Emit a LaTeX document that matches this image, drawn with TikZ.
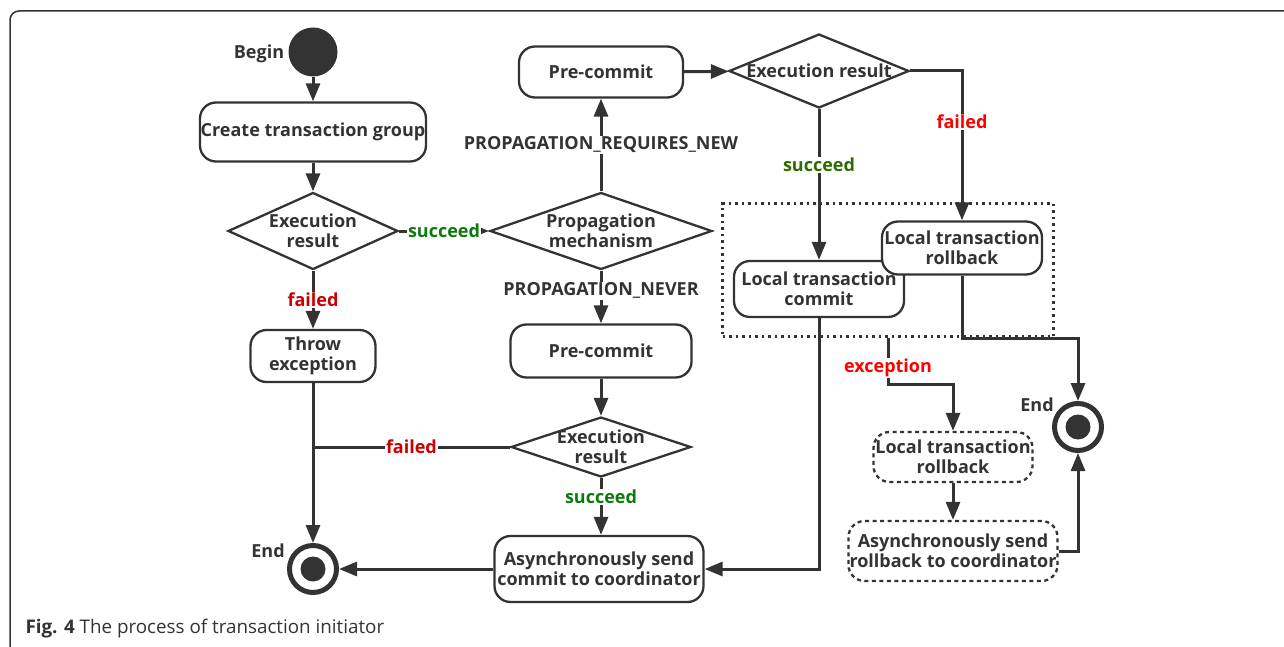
\documentclass[tikz,border=0pt]{standalone}
\usepackage{fontspec}
\setmainfont{Open Sans}
\usetikzlibrary{shapes.geometric,arrows.meta}
\definecolor{ink}{HTML}{333333}
\definecolor{faildark}{HTML}{CC0000}
\definecolor{failbright}{HTML}{FF0000}
\definecolor{okgreen}{HTML}{0A7A0A}
\definecolor{okolive}{HTML}{2E6B00}
\tikzset{
	txt/.style={font=\fontsize{18}{20}\selectfont\bfseries, text=ink, align=center},
	actbox/.style={txt, draw=ink, line width=2.3pt, rounded corners=16pt, fill=white, inner sep=0pt},
	dashbox/.style={actbox, dash pattern=on 4pt off 3.5pt},
	dotbox/.style={draw=ink, line width=2.4pt, dash pattern=on 2.5pt off 4pt, inner sep=0pt},
	decision/.style={diamond, draw=ink, line width=2.3pt, fill=white, inner sep=0pt},
	inside/.style={label={[txt]center:{#1}}},
	startdot/.style={circle, fill=ink, minimum size=49pt, inner sep=0pt},
	enddot/.style={circle, draw=ink, line width=5pt, fill=white, minimum size=47pt, inner sep=0pt,
		path picture={\fill[ink] (path picture bounding box.center) circle (12.5pt);}},
	conn/.style={draw=ink, line width=3pt, -{Triangle[length=18pt, width=14pt]}},
	wire/.style={draw=ink, line width=3pt},
	lbl/.style={txt, fill=white, inner sep=1pt},
}
\begin{document}
\begin{tikzpicture}[x=1pt, y=-1pt]
	\useasboundingbox (0,0) rectangle (1284,647);
	%frame and caption
	\draw[ink, line width=1.5pt, rounded corners=9pt] (10,11) rectangle (1300,655);
	\node[anchor=west, text=ink, font=\fontsize{18.8}{20}\selectfont] (caption) at (22,629) {\textbf{Fig. 4} The process of transaction initiator};
	
	%left column
	\node[startdot] (begin) at (313,52) {};
	\node[txt] (beginlbl) at (259,54) {Begin};
	\node[actbox, minimum width=226pt, minimum height=59pt] (create) at (313,132) {Create transaction group};
	\node[decision, minimum width=170pt, minimum height=77pt, inside={Execution\\result}] (ex1) at (313,231) {};
	\node[actbox, minimum width=125pt, minimum height=52pt] (throw) at (313,356) {Throw\\exception};
	\node[enddot] (end1) at (313,569) {};
	\node[txt] (end1lbl) at (268,551) {End};
	
	%middle column
	\node[decision, minimum width=222pt, minimum height=77pt, inside={Propagation\\mechanism}] (prop) at (601,231) {};
	\node[actbox, minimum width=164pt, minimum height=51pt] (pre1) at (601,72) {Pre-commit};
	\node[actbox, minimum width=181pt, minimum height=53pt] (pre2) at (601,351) {Pre-commit};
	\node[decision, minimum width=180pt, minimum height=60pt, inside={Execution\\result}] (ex3) at (601,447) {};
	\node[actbox, minimum width=209pt, minimum height=66pt] (ac) at (599,569) {Asynchronously send\\commit to coordinator};
	
	%right column
	\node[decision, minimum width=180pt, minimum height=74pt, inside={Execution result}] (ex2) at (819,71) {};
	\node[dotbox, minimum width=331pt, minimum height=133pt] (grp) at (888,270) {};
	\node[actbox, minimum width=170pt, minimum height=56pt] (cm) at (819,289) {Local transaction\\commit};
	\node[actbox, minimum width=160pt, minimum height=53pt] (rb) at (962,248) {Local transaction\\rollback};
	\node[dashbox, minimum width=159pt, minimum height=50pt] (lrb) at (953,457) {Local transaction\\rollback};
	\node[dashbox, minimum width=209pt, minimum height=60pt] (arb) at (953,551) {Asynchronously send\\rollback to coordinator};
	\node[enddot] (end2) at (1078,427) {};
	\node[txt] (end2lbl) at (1037,405) {End};
	\coordinate (rbturn) at (1078,338);
	\coordinate (exbend) at (953,384);
	
	%connectors
	\draw[conn] (begin) -- (create);
	\draw[conn] (create) -- (ex1);
	\draw[conn] (ex1) -- node[lbl, text=faildark]{failed} (throw);
	\draw[conn] (throw) -- (end1);
	\draw[conn] (ex1) -- node[lbl, text=okgreen]{succeed} (prop);
	\draw[conn] (prop) -- node[lbl]{PROPAGATION\_REQUIRES\_NEW} (pre1);
	\draw[conn] (prop) -- node[lbl, pos=0.38]{PROPAGATION\_NEVER} (pre2);
	\draw[conn] (pre2) -- (ex3);
	\draw[conn] (ex3.south) -- node[lbl, pos=0.33, text=okgreen]{succeed} (ex3.south |- ac.north);
	\draw[wire] (ex3.west) -- node[lbl, text=faildark]{failed} (ex3.west -| throw);
	\draw[conn] (ac) -- (end1);
	\draw[conn] (pre1) -- (ex2);
	\draw[conn] (ex2) -- node[lbl, pos=0.37, text=okolive]{succeed} (cm);
	\draw[conn] (ex2.east) -| node[lbl, pos=0.67, text=failbright]{failed} (rb);
	\draw[conn] (cm.south) |- (ac.east);
	\draw[conn] (rb.south) |- (rbturn) -- (end2);
	\draw[conn] (grp.south) |- node[lbl, pos=0.33, text=failbright]{exception} (exbend) -- (lrb);
	\draw[conn] (lrb) -- (arb);
	\draw[conn] (arb.east) -| (end2);
\end{tikzpicture}
\end{document}
